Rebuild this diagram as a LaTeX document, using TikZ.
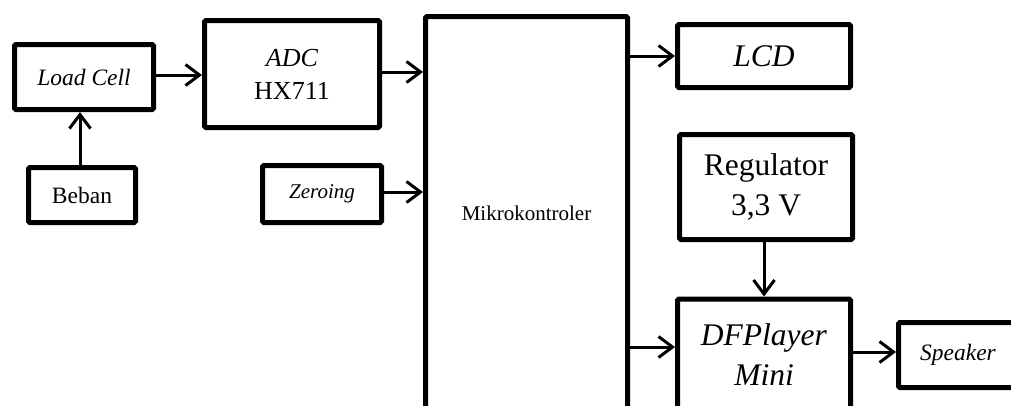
\documentclass[tikz,border=0pt]{standalone}
\usepackage{fontspec}
\setmainfont{Liberation Serif}
\usetikzlibrary{arrows.meta}

\begin{document}
\begin{tikzpicture}[x=1pt, y=-1pt,
  blok/.style={draw, line width=5pt, rounded corners=1.5pt, align=center, inner sep=0pt},
  arr/.style={-{Straight Barb[length=14pt, width=21pt]}, line width=3pt},
  kecil/.style={font=\fontsize{21}{27}\selectfont},
  sedang/.style={font=\fontsize{23.5}{30}\selectfont},
  besar/.style={font=\fontsize{26}{33}\selectfont},
  jumbo/.style={font=\fontsize{31.5}{40}\selectfont}]
  \useasboundingbox (0,0) rectangle (1011,405);
  \clip (0,0) rectangle (1011,405);

  % Input blocks
  \node[blok, sedang, minimum width=139, minimum height=65] (load) at (84,77) {\textit{Load Cell}};
  \node[blok, sedang, minimum width=107, minimum height=55] (beban) at (82,195) {Beban};
  \node[blok, besar, minimum width=175, minimum height=107] (adc) at (292,74) {\textit{ADC}\\HX711};
  \node[blok, kecil, minimum width=119, minimum height=57] (zero) at (322,194) {\textit{Zeroing}};

  % Controller
  \node[blok, kecil, minimum width=202, minimum height=393] (mikro) at (526.5,213) {Mikrokontroler};

  % Output blocks
  \node[blok, jumbo, minimum width=173, minimum height=63] (lcd) at (764,56) {\textit{LCD}};
  \node[blok, jumbo, minimum width=173, minimum height=105] (reg) at (766,187) {Regulator\\3,3 V};
  \node[blok, jumbo, minimum width=173, minimum height=112] (dfp) at (764,355) {\textit{DFPlayer}\\\textit{Mini}};
  \node[blok, sedang, minimum width=119, minimum height=65] (spk) at (958,355) {\textit{Speaker}};

  % Connections
  \draw[arr] (beban.north -| 80,0) -- (load.south -| 80,0);
  \draw[arr] ([yshift=2pt]load.east) -- ([yshift=2pt]load.east -| adc.west);
  \draw[arr] ([yshift=2pt]adc.east) -- ([yshift=2pt]adc.east -| mikro.west);
  \draw[arr] ([yshift=2pt]zero.east) -- ([yshift=2pt]zero.east -| mikro.west);
  \draw[arr] (lcd.west -| mikro.east) -- (lcd.west);
  \draw[arr] (reg.south -| dfp.north) -- (dfp.north);
  \draw[arr] ([yshift=8pt]dfp.west -| mikro.east) -- ([yshift=8pt]dfp.west);
  \draw[arr] ([yshift=3pt]dfp.east) -- ([yshift=3pt]dfp.east -| spk.west);
\end{tikzpicture}
\end{document}
